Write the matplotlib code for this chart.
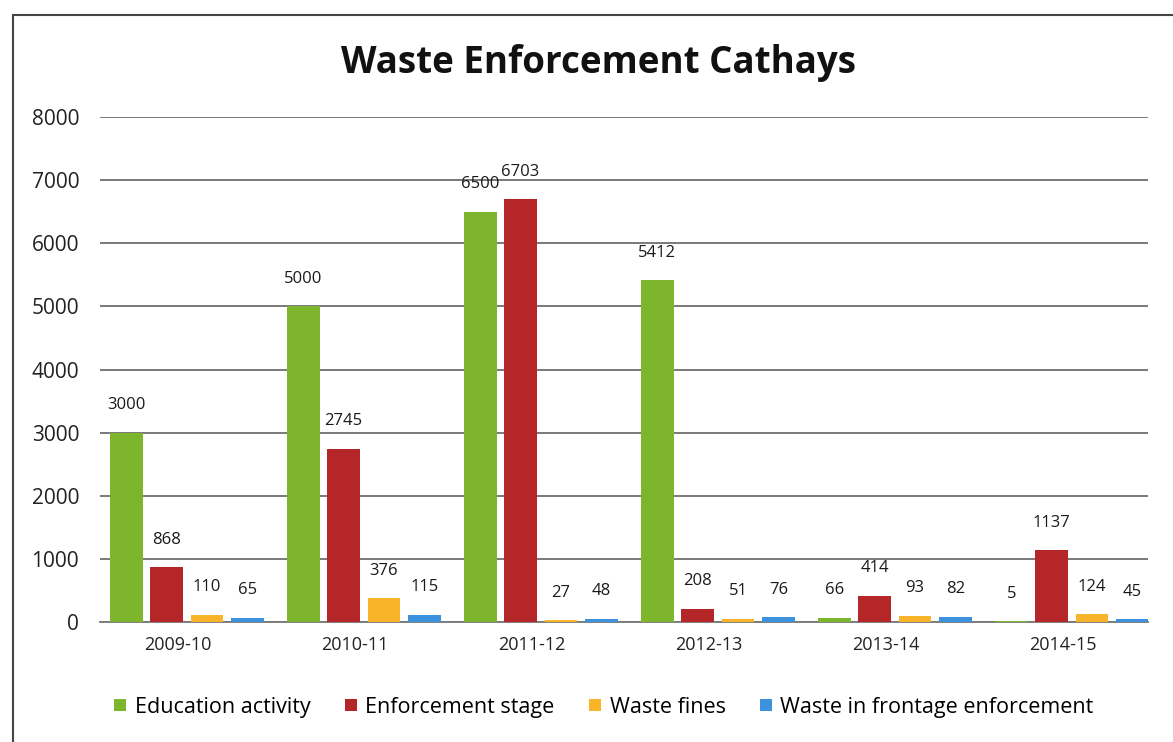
import numpy as np
import matplotlib
matplotlib.use("Agg")
import matplotlib.pyplot as plt
import matplotlib.transforms as mtransforms
from matplotlib.patches import Rectangle

plt.rcParams['font.family'] = ['Open Sans', 'DejaVu Sans']

# data
years = ["2009-10", "2010-11", "2011-12", "2012-13", "2013-14", "2014-15"]
education = [3000, 5000, 6500, 5412, 66, 5]
enforcement = [868, 2745, 6703, 208, 414, 1137]
fines = [110, 376, 27, 51, 93, 124]
frontage = [65, 115, 48, 76, 82, 45]
series_names = ["Education activity", "Enforcement stage", "Waste fines",
                "Waste in frontage enforcement"]
colors = ["#7db52c", "#b52628", "#f8b52a", "#3c92dc"]

fig = plt.figure(figsize=(11.73, 7.42), dpi=100)
ax = fig.add_axes([100 / 1173, 0.162, 1048 / 1173, 0.68])

x = np.arange(len(years))
w = 0.185
step = 0.228
all_series = [education, enforcement, fines, frontage]
for i, (vals, c, name) in enumerate(zip(all_series, colors, series_names)):
    pos = x + (i - 1.5) * step
    ax.bar(pos, vals, width=w, color=c, label=name, zorder=3)
    for p, v in zip(pos, vals):
        ax.annotate(str(v), (p, v), xytext=(0, 14), textcoords="offset points",
                    ha="center", va="bottom", fontsize=12, color="#1a1a1a")

ax.set_ylim(0, 8000)
ax.set_xlim(-0.49, 5.43)
ax.set_yticks(range(0, 8001, 1000))
ax.set_xticks(x)
ax.set_xticklabels(years)
ax.tick_params(axis="both", length=0, colors="#222222")
ax.tick_params(axis="x", pad=10, labelsize=13)
ax.tick_params(axis="y", pad=15, labelsize=15)
# category labels sit a little left of the bar groups in the original
shift = mtransforms.ScaledTranslation(-9 / 100, 0, fig.dpi_scale_trans)
for lbl in ax.get_xticklabels():
    lbl.set_transform(lbl.get_transform() + shift)
ax.yaxis.grid(True, color="#555555", linewidth=1.1, zorder=0)
for s in ["top", "right", "left"]:
    ax.spines[s].set_visible(False)
ax.spines["bottom"].set_color("#777777")
ax.spines["bottom"].set_linewidth(1.3)

fig.text(0.51, 0.915, "Waste Enforcement Cathays", ha="center", va="center",
         fontsize=26.5, fontweight="bold", color="#111111")

fig.legend(loc="center", bbox_to_anchor=(0.515, 0.047), ncol=4, frameon=False,
           fontsize=15.5, handlelength=0.55, handleheight=0.55, handletextpad=0.4,
           columnspacing=1.6)

# outer frame
fig.patches.append(Rectangle((0.011, -0.01), 1.1, 0.99, transform=fig.transFigure,
                             fill=False, edgecolor="#444444", linewidth=1.5))

fig.savefig("out.png", dpi=100)
